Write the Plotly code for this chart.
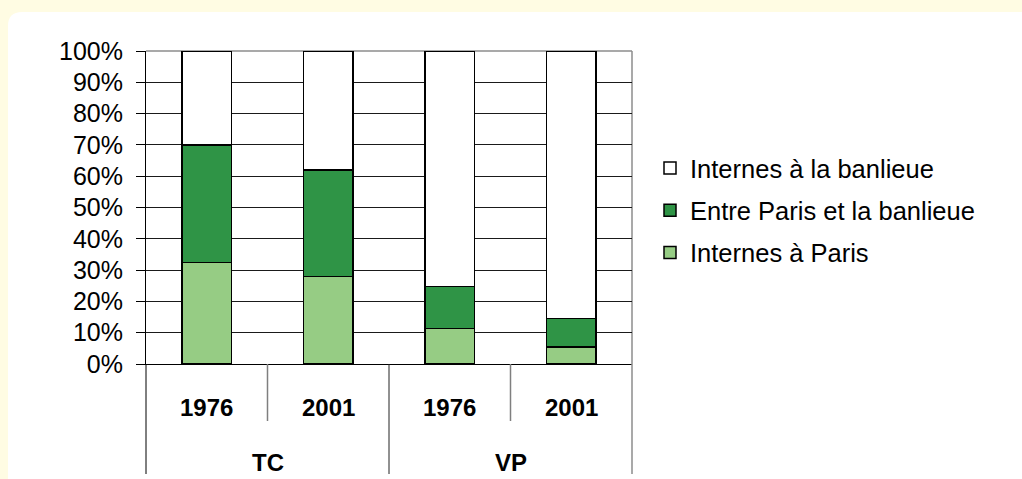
import plotly.graph_objects as go

# ---- data ----
modes = ["TC", "TC", "VP", "VP"]
years = ["1976", "2001", "1976", "2001"]
series_names = ["Internes à Paris", "Entre Paris et la banlieue", "Internes à la banlieue"]
paris = [32.5, 28.0, 11.4, 5.5]
entre = [37.5, 34.0, 13.3, 9.0]
banlieue = [30.0, 38.0, 75.3, 85.5]
colors = ["#96CC84", "#2F9446", "#FFFFFF"]
legend_ranks = [3, 2, 1]
y_ticks = [0, 10, 20, 30, 40, 50, 60, 70, 80, 90, 100]

cats = [f"{m} {y}" for m, y in zip(modes, years)]
FONT = "Arial, Liberation Sans, sans-serif"

fig = go.Figure()
for name, vals, col, rk in zip(series_names, [paris, entre, banlieue], colors, legend_ranks):
    fig.add_trace(go.Bar(
        x=cats, y=vals, name=name, legendgroup=name, legendrank=rk,
        marker=dict(color=col, line=dict(color="black", width=1.5)),
        hoverinfo="skip",
    ))

L, R, T, B = 146, 390, 51, 115
W, H = 1022, 479
pw, ph = W - L - R, H - T - B

def px_x(p):
    return (p - L) / pw

def px_y(p):
    return (H - B - p) / ph

shapes = []
# cream background with white rounded panel
r = 14
x0, y0, x1, y1 = px_x(8), px_y(12), px_x(W + 5), px_y(H + 5)
xr, yr = px_x(8 + r), px_y(12 + r)
shapes.append(dict(
    type="path", xref="paper", yref="paper", layer="below",
    path=f"M {x0},{yr} Q {x0},{y0} {xr},{y0} L {x1},{y0} L {x1},{y1} L {x0},{y1} Z",
    fillcolor="white", line=dict(width=0),
))
# gray plot-area border (top/right)
shapes.append(dict(type="line", xref="paper", yref="paper", layer="between",
                   x0=0, x1=1, y0=1, y1=1, line=dict(color="#8C8C8C", width=1.5)))
shapes.append(dict(type="line", xref="paper", yref="paper", layer="between",
                   x0=1, x1=1, y0=0, y1=1, line=dict(color="#8C8C8C", width=1.5)))
# category dividers
full_bottom = px_y(474)
inner_bottom = px_y(421)
shapes.append(dict(type="line", xref="paper", yref="paper", x0=0, x1=0, y0=0, y1=full_bottom,
                   line=dict(color="black", width=1)))
shapes.append(dict(type="line", xref="paper", yref="paper", x0=0.5, x1=0.5, y0=0, y1=full_bottom,
                   line=dict(color="#222222", width=1)))
shapes.append(dict(type="line", xref="paper", yref="paper", x0=1, x1=1, y0=0, y1=full_bottom,
                   line=dict(color="#8C8C8C", width=1.5)))
for xp in (0.25, 0.75):
    shapes.append(dict(type="line", xref="paper", yref="paper", x0=xp, x1=xp, y0=0, y1=inner_bottom,
                       line=dict(color="#7F7F7F", width=1.5)))

annotations = []
for c, yv in zip(cats, years):
    annotations.append(dict(x=c, xref="x", y=px_y(407), yref="paper", text=f"<b>{yv}</b>",
                            showarrow=False, yanchor="middle", xanchor="center",
                            font=dict(family=FONT, size=24, color="black")))
groups = []
for i, m in enumerate(modes):
    if not groups or groups[-1][0] != m:
        groups.append([m, [i]])
    else:
        groups[-1][1].append(i)
for m, idx in groups:
    annotations.append(dict(x=sum(idx) / len(idx), xref="x", y=px_y(462), yref="paper",
                            text=f"<b>{m}</b>", showarrow=False, yanchor="middle", xanchor="center",
                            font=dict(family=FONT, size=24, color="black")))

fig.update_layout(
    width=W, height=H,
    margin=dict(l=L, r=R, t=T, b=B, pad=0),
    paper_bgcolor="#FFFCE3",
    plot_bgcolor="white",
    barmode="stack",
    bargap=0.59,
    font=dict(family=FONT, size=24, color="black"),
    showlegend=True,
    legend=dict(
        x=px_x(650), xanchor="left", y=px_y(145), yanchor="top",
        traceorder="grouped", tracegroupgap=6,
        font=dict(family=FONT, size=25.5, color="black"),
        bgcolor="rgba(0,0,0,0)",
    ),
    xaxis=dict(
        showticklabels=False, ticks="", showgrid=False, zeroline=False,
        showline=True, linecolor="black", linewidth=1,
        range=[-0.5, 3.5], fixedrange=True,
    ),
    yaxis=dict(
        range=[0, 100], tickvals=y_ticks, ticktext=[f"{v}%" for v in y_ticks],
        showgrid=True, gridcolor="#1A1A1A", gridwidth=1,
        zeroline=False, showline=True, linecolor="black", linewidth=1,
        ticks="outside", ticklen=9, tickcolor="black", tickwidth=1,
        ticklabelstandoff=8,
        tickfont=dict(family=FONT, size=25, color="black"),
        fixedrange=True,
    ),
    shapes=shapes,
    annotations=annotations,
)

fig.write_html("out.html", config={"displayModeBar": False},
               post_script="document.body.style.margin='0';")
